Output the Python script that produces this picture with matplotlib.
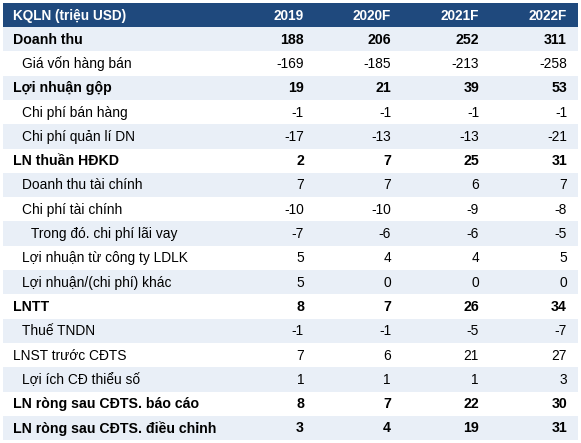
import matplotlib.pyplot as plt
from matplotlib.patches import Rectangle

plt.rcParams['font.family'] = ['Liberation Sans', 'DejaVu Sans']

# table content
header = ["KQLN (triệu USD)", "2019", "2020F", "2021F", "2022F"]
labels = ["Doanh thu", "Giá vốn hàng bán", "Lợi nhuận gộp", "Chi phí bán hàng",
          "Chi phí quản lí DN", "LN thuần HĐKD", "Doanh thu tài chính",
          "Chi phí tài chính", "Trong đó. chi phí lãi vay", "Lợi nhuận từ công ty LDLK",
          "Lợi nhuận/(chi phí) khác", "LNTT", "Thuế TNDN", "LNST trước CĐTS",
          "Lợi ích CĐ thiểu số", "LN ròng sau CĐTS. báo cáo", "LN ròng sau CĐTS. điều chỉnh"]
v2019 = [188, -169, 19, -1, -17, 2, 7, -10, -7, 5, 5, 8, -1, 7, 1, 8, 3]
v2020 = [206, -185, 21, -1, -13, 7, 7, -10, -6, 4, 0, 7, -1, 6, 1, 7, 4]
v2021 = [252, -213, 39, -1, -13, 25, 6, -9, -6, 4, 0, 26, -5, 21, 1, 22, 19]
v2022 = [311, -258, 53, -1, -21, 31, 7, -8, -5, 5, 0, 34, -7, 27, 3, 30, 31]
bold_rows = [0, 2, 5, 11, 15, 16]
indent = [0, 1, 0, 1, 1, 0, 1, 1, 2, 1, 1, 0, 1, 0, 1, 0, 0]

W, H = 581, 443
fig = plt.figure(figsize=(W / 100, H / 100), dpi=100)
ax = fig.add_axes([0, 0, 1, 1])
ax.set_xlim(0, W)
ax.set_ylim(H, 0)
ax.axis('off')

x0, x1 = 3, 578
top, hh = 3, 24
rh = 24.3
col_right = [304, 391, 479, 567]
fs = 9.9
fs_bold = 10.2
navy = '#1F497D'
light = '#E9EFF7'

ax.add_patch(Rectangle((x0, top), x1 - x0, hh, color=navy, lw=0))
ax.text(13, top + hh / 2 + 0.5, header[0], color='white', fontweight='bold', fontsize=9.8,
        va='center', ha='left')
for cx, h in zip(col_right, header[1:]):
    ax.text(cx, top + hh / 2 + 0.5, h, color='white', fontweight='bold', fontsize=9.8,
            va='center', ha='right')

cols = [v2019, v2020, v2021, v2022]
for i, lab in enumerate(labels):
    y = top + hh + i * rh
    if i % 2 == 0:
        ax.add_patch(Rectangle((x0, y), x1 - x0, rh, color=light, lw=0))
    b = i in bold_rows
    fw = 'bold' if b else 'normal'
    size = fs_bold if b else fs
    ax.text(13 + indent[i] * 9, y + rh / 2 + 0.5, lab, fontsize=size, fontweight=fw,
            va='center', ha='left', color='black')
    for cx, vals in zip(col_right, cols):
        ax.text(cx, y + rh / 2 + 0.5, str(vals[i]), fontsize=size, fontweight=fw,
                va='center', ha='right', color='black')

fig.savefig("out.png", dpi=100)
